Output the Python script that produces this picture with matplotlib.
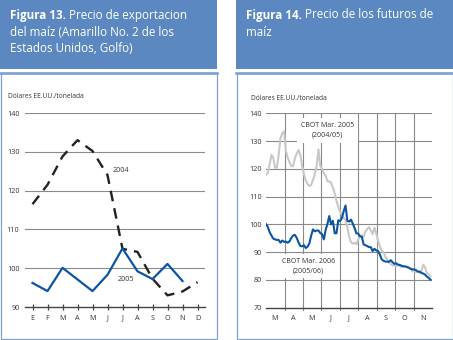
import matplotlib

matplotlib.use("Agg")
import matplotlib.pyplot as plt
import pandas as pd
from matplotlib.patches import Rectangle
from matplotlib.lines import Line2D

plt.rcParams["font.family"] = ["Open Sans", "DejaVu Sans"]

# --- data: figura 13 (precio de exportacion, USD/t) ---
meses = ["E", "F", "M", "A", "M", "J", "J", "A", "S", "O", "N", "D"]
precio_2004 = [116.5, 121.5, 128.8, 133.0, 130.2, 124.0, 105.0, 104.2, 97.3, 93.0, 94.0, 96.4]
precio_2005 = [96.2, 94.1, 100.1, 97.1, 94.1, 98.3, 105.1, 99.2, 97.2, 101.1, 96.7]

# --- data: figura 14 (futuros CBOT, USD/t), muestreo cada 3 dias desde el 1 de marzo ---
fechas = pd.date_range("2005-03-01", periods=92, freq="3D")
cbot_mar_2005 = [
    117.8, 118.6, 121.5, 125.0, 124.0, 120.5, 120.3, 125.0, 131.0, 132.8,
    133.5, 126.5, 124.0, 122.4, 121.0, 121.0, 123.8, 125.5, 126.8, 125.0,
    121.0, 118.0, 115.8, 114.5, 113.8, 114.3, 116.0, 118.0, 121.0, 127.0,
    121.0, 120.0, 118.3, 117.5, 115.5, 115.5, 115.0, 113.3, 111.2, 108.5,
    106.2, 104.5, 103.5, 102.3, 101.5, 99.0, 95.5, 93.6, 93.0, 93.4,
    92.8, 94.5, 95.8, 96.0, 95.5, 97.5, 98.3, 99.0, 97.8, 96.5,
    98.8, 96.8, 94.2, 92.2, 90.5, 90.0, 88.4, 87.6, 86.3, 85.8,
    85.2, 85.4, 85.0, 85.4, 85.0, 84.6, 85.0, 85.0, 84.5, 84.3,
    84.0, 83.2, 83.0, 82.8, 83.0, 82.5, 83.3, 85.5, 84.5, 82.5,
    82.0, 81.3,
]
cbot_mar_2006 = [
    100.1, 99.1, 97.2, 96.0, 94.9, 94.6, 94.4, 94.4, 93.4, 94.2,
    93.7, 93.8, 93.4, 93.9, 95.1, 96.0, 96.2, 95.1, 93.5, 92.2,
    92.1, 92.5, 91.5, 92.0, 93.2, 96.0, 98.2, 97.5, 97.8, 97.8,
    96.9, 96.5, 94.6, 98.0, 100.2, 103.0, 100.0, 101.3, 96.8, 96.8,
    101.5, 101.2, 102.3, 104.8, 106.8, 101.3, 101.0, 101.7, 100.3, 98.7,
    96.8, 96.7, 95.7, 95.6, 92.8, 92.5, 92.2, 91.8, 91.8, 90.4,
    91.2, 90.6, 90.4, 89.1, 87.4, 86.9, 86.6, 86.6, 86.5, 87.1,
    86.4, 85.8, 86.0, 85.5, 85.4, 85.1, 84.9, 84.8, 84.7, 84.4,
    84.0, 83.8, 83.8, 83.5, 83.0, 83.0, 82.5, 82.3, 81.9, 81.2,
    80.7, 80.1,
]
meses_futuros = ["M", "A", "M", "J", "J", "A", "S", "O", "N"]

W, H = 453, 340
HEADER = "#5b88c0"
BORDER = "#7da2d3"
GRID = "#8a8a8a"
TXT = "#333333"
BLUE = "#0b55a3"

fig = plt.figure(figsize=(W / 100, H / 100), dpi=100)
fig.patch.set_facecolor("white")


def fx(x):
    return x / W


def fy(y):
    return 1 - y / H


def panel(x0, x1, title):
    fig.add_artist(Rectangle((fx(x0), fy(69)), fx(x1 - x0), 69 / H,
                             transform=fig.transFigure, facecolor=HEADER,
                             edgecolor="none"))
    fig.add_artist(Rectangle((fx(x0 + 0.5), fy(339)), fx(x1 - x0 - 1), 266 / H,
                             transform=fig.transFigure, facecolor="none",
                             edgecolor=BORDER, linewidth=0.9))
    fig.add_artist(Line2D([fx(x0), fx(x1)], [fy(73), fy(73)],
                          transform=fig.transFigure, color=BORDER, linewidth=1.9))
    renderer = fig.canvas.get_renderer()
    bold, rest = title[0]
    t = fig.text(fx(x0 + 10), fy(18.5), bold, color="white", fontsize=8.4,
                 fontweight="bold", va="baseline")
    w = t.get_window_extent(renderer).width
    fig.text(fx(x0 + 10 + w + 3.5), fy(18.5), rest, color="white", fontsize=8.4,
             va="baseline")
    for i, line in enumerate(title[1:]):
        fig.text(fx(x0 + 10), fy(18.5 + 17 * (i + 1)), line, color="white",
                 fontsize=8.4, va="baseline")


panel(0, 217, [("Figura 13.", "Precio de exportacion"),
               "del maíz (Amarillo No. 2 de los", "Estados Unidos, Golfo)"])
panel(236, 453, [("Figura 14.", "Precio de los futuros de"), "maíz"])

# ---------------- Figura 13 ----------------
ax1 = fig.add_axes([fx(25), fy(307), fx(180), 194 / H])
xs = list(range(len(meses)))
ax1.plot(xs, precio_2004, color="#222222", linewidth=1.7, dashes=(4.5, 3.0),
         zorder=3)
ax1.plot(xs[:len(precio_2005)], precio_2005, color=BLUE, linewidth=1.6, zorder=3)
ax1.set_xlim(-0.5, 11.5)
ax1.set_ylim(90, 140)
ax1.set_yticks(range(90, 141, 10))
ax1.set_xticks(xs)
ax1.set_xticklabels(meses)
for v in range(100, 141, 10):
    ax1.axhline(v, color=GRID, linewidth=0.8, zorder=1)
for s in ("top", "right", "left"):
    ax1.spines[s].set_visible(False)
ax1.spines["bottom"].set_color("#444444")
ax1.spines["bottom"].set_linewidth(1.0)
ax1.tick_params(axis="y", length=0, pad=4, labelsize=5.2, labelcolor=TXT)
ax1.tick_params(axis="x", direction="inout", length=5, width=0.9,
                color="#444444", pad=3, labelsize=5.2, labelcolor=TXT)
ax1.text(5.35, 125.3, "2004", fontsize=5.2, color=TXT, va="center", ha="left")
ax1.text(6.25, 97.2, "2005", fontsize=5.2, color=TXT, va="center", ha="center")
fig.text(fx(8), fy(98), "Dólares EE.UU./tonelada", fontsize=4.8, color=TXT,
         va="baseline")

# ---------------- Figura 14 ----------------
ax2 = fig.add_axes([fx(266), fy(307.7), fx(165.7), 194.4 / H])
ax2.plot(fechas, cbot_mar_2005, color="#c8c8c8", linewidth=1.5, zorder=4)
ax2.plot(fechas, cbot_mar_2006, color=BLUE, linewidth=1.5, zorder=5)
inicio = pd.Timestamp("2005-03-01")
fin = pd.Timestamp("2005-12-01")
ax2.set_xlim(inicio, fin)
ax2.set_ylim(70, 140)
ax2.set_yticks(range(70, 141, 10))
bordes = pd.date_range(inicio, fin, freq="MS")
for b in bordes[1:-1]:
    ax2.axvline(b, ymin=-0.012, ymax=1.0, color=GRID, linewidth=0.8, zorder=1,
                clip_on=False)
for v in range(80, 141, 10):
    ax2.axhline(v, color=GRID, linewidth=0.8, zorder=1)
centros = [b + pd.Timedelta(days=15) for b in bordes[:-1]]
ax2.set_xticks(centros)
ax2.set_xticklabels(meses_futuros)
for s in ("top", "right", "left"):
    ax2.spines[s].set_visible(False)
ax2.spines["bottom"].set_color("#444444")
ax2.spines["bottom"].set_linewidth(1.0)
ax2.tick_params(axis="y", length=0, pad=3, labelsize=5.2, labelcolor=TXT)
ax2.tick_params(axis="x", length=0, pad=5, labelsize=5.2, labelcolor=TXT)
caja = dict(boxstyle="square,pad=0.55", facecolor="white", edgecolor="none")
ax2.text(pd.Timestamp("2005-06-11"), 133.8, "CBOT Mar. 2005\n(2004/05)",
         fontsize=5.0, color=TXT, ha="center", va="center", linespacing=1.5,
         bbox=caja, zorder=2)
ax2.text(pd.Timestamp("2005-05-10"), 84.9, "CBOT Mar. 2006\n(2005/06)",
         fontsize=5.0, color=TXT, ha="center", va="center", linespacing=1.5,
         bbox=caja, zorder=2)
fig.text(fx(251), fy(100), "Dólares EE.UU./tonelada", fontsize=4.8, color=TXT,
         va="baseline")

fig.savefig("out.png", dpi=100, facecolor="white")
